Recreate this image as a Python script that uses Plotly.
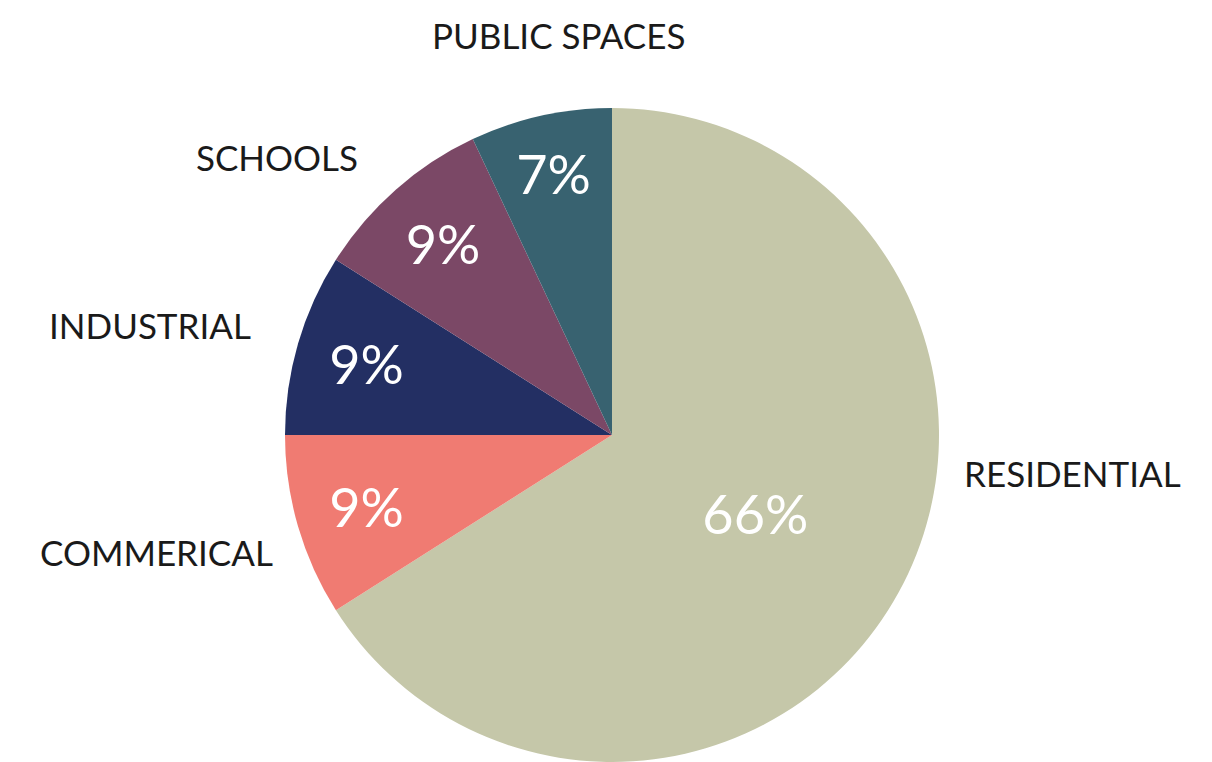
import plotly.graph_objects as go

categories = ["RESIDENTIAL", "COMMERICAL", "INDUSTRIAL", "SCHOOLS", "PUBLIC SPACES"]
values = [66, 9, 9, 9, 7]
colors = ["#C5C7A9", "#F07B72", "#232F63", "#7B4866", "#386270"]

W, H = 1212, 762
cx, cy, r = 612, 435, 327

# label anchor positions in pixels (layout only)
label_pos = {
    "RESIDENTIAL": (1072, 473),
    "COMMERICAL": (156, 552),
    "INDUSTRIAL": (150, 325),
    "SCHOOLS": (277, 157),
    "PUBLIC SPACES": (558, 35),
}

FONT = "Lato, 'Open Sans', sans-serif"

fig = go.Figure(go.Pie(
    labels=categories,
    values=values,
    marker=dict(colors=colors, line=dict(width=0)),
    sort=False,
    direction="clockwise",
    rotation=0,
    texttemplate="%{percent:.0%}",
    textposition="inside",
    insidetextorientation="horizontal",
    insidetextfont=dict(color="white", size=54, family=FONT),
    showlegend=False,
    hoverinfo="label+percent",
    domain=dict(x=[(cx - r) / W, (cx + r) / W], y=[1 - (cy + r) / H, 1 - (cy - r) / H]),
))

for name in categories:
    px, py = label_pos[name]
    fig.add_annotation(
        x=px / W, y=1 - py / H, xref="paper", yref="paper",
        text=name, showarrow=False, xanchor="center", yanchor="middle",
        font=dict(size=35, color="#1a1a1a", family=FONT),
    )

fig.update_layout(
    width=W, height=H,
    margin=dict(l=0, r=0, t=0, b=0),
    paper_bgcolor="white", plot_bgcolor="white",
    uniformtext=dict(minsize=54, mode="show"),
)

fig.write_html("out.html")
